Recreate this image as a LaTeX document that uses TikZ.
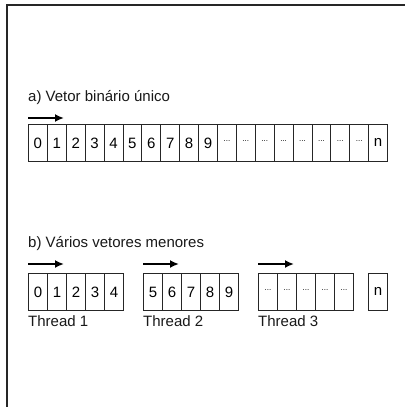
\documentclass[tikz,border=0pt]{standalone}
\usepackage{fontspec}
\setmainfont{Liberation Sans}
\usetikzlibrary{arrows.meta,calc}
\begin{document}
\begin{tikzpicture}[x=1pt,y=-1pt,
  cell/.style={draw=black!85,line width=0.9pt,minimum width=18.9pt,minimum height=37pt,inner sep=0pt,anchor=north west,font=\fontsize{15}{17}\selectfont},
  lbl/.style={anchor=base west,inner sep=0pt,font=\fontsize{15}{17}\selectfont,text=black!90},
  arr/.style={line width=2.6pt,-{Latex[length=9pt,width=8pt]}},
  frame/.style={line width=1.3pt,draw=black!85}]
\useasboundingbox (0,0) rectangle (405,407);
\fill[white] (0,0) rectangle (405,407);
\def\dd{d}
% frame (top and left sides visible)
\coordinate (fbl) at (7,407);
\coordinate (ftl) at (7,5);
\coordinate (ftr) at (405,5);
\draw[frame] (fbl) -- (ftl) -- (ftr);
% part a
\node[lbl] (ta) at (28,101) {a) Vetor binário único};
\coordinate (a1s) at (28,118);
\coordinate (a1e) at (64,118);
\draw[arr] (a1s) -- (a1e);
\foreach \t [count=\i from 0] in {0,1,2,3,4,5,6,7,8,9,d,d,d,d,d,d,d,d,n}{
  \ifx\t\dd
    \node[cell] (a\i) at (28+\i*18.9,124) {\fontsize{8}{9}\selectfont\raisebox{3.5pt}{...}};
  \else
    \node[cell] (a\i) at (28+\i*18.9,124) {\raisebox{-2.5pt}{\t}};
  \fi
}
% part b
\node[lbl] (tb) at (28,247) {b) Vários vetores menores};
\foreach \s/\n in {28/1,143/2,258/3}{
  \coordinate (b\n s) at (\s,264);
  \coordinate (b\n e) at (\s+36,264);
  \draw[arr] (b\n s) -- (b\n e);
  \node[lbl] (th\n) at (\s,326) {Thread \n};
}
\foreach \t [count=\i from 0] in {0,1,2,3,4}{
  \node[cell,minimum width=19pt] (p\i) at (28+\i*19,273) {\raisebox{-2.5pt}{\t}};
}
\foreach \t [count=\i from 0] in {5,6,7,8,9}{
  \node[cell,minimum width=19pt] (q\i) at (143+\i*19,273) {\raisebox{-2.5pt}{\t}};
}
\foreach \i in {0,...,4}{
  \node[cell,minimum width=19pt] (r\i) at (258+\i*19,273) {\fontsize{8}{9}\selectfont\raisebox{3.5pt}{...}};
}
\node[cell,minimum width=19pt] (bn) at (368,273) {\raisebox{-2.5pt}{n}};
\end{tikzpicture}
\end{document}
